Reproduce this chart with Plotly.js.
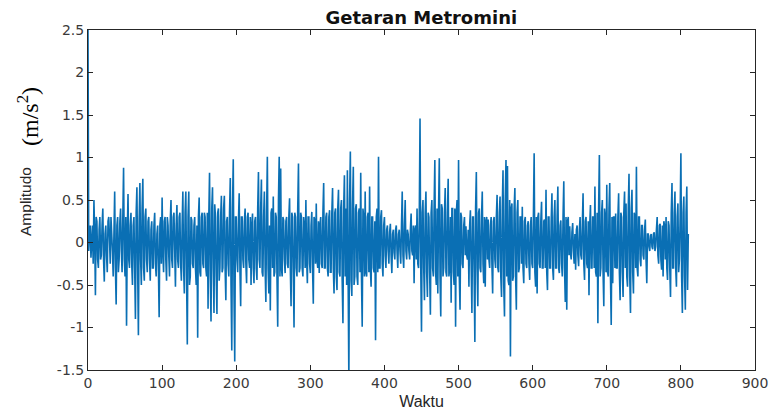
<!DOCTYPE html>
<html>
<head>
<meta charset="utf-8">
<script src="https://cdn.plot.ly/plotly-3.0.1.min.js"></script>
<style>html,body{margin:0;padding:0;background:#fff;}#chart{width:778px;height:419px;}</style>
</head>
<body>
<div id="chart"></div>
<script>
// Sample step along the time axis (Waktu)
const sampleStep = 1;
// Amplitude readings (m/s^2)
const amplitudo = [
  2.5,-0.1, 0.12,0.2, -0.18,0.1, 0.2,-0.25, 0.5,0.1, -0.62,0.3, 0.25,-0.2, -0.3,0.15, 0.3,-0.2, -0.15,0.2,
  0.4,-0.2, -0.46,0.1, 0.2,-0.15, -0.35,0.25, 0.3,0.05, -0.25,0.3, 0.15,-0.1, -0.4,0.2, 0.6,-0.3, -0.73,0.2,
  0.3,-0.35, -0.2,0.25, 0.4,-0.1, -0.35,0.3, 0.88,-0.2, -0.4,0.3, -0.98,0.1, 0.57,-0.2, -0.3,0.2, 0.35,-0.25,
  -0.5,0.2, 0.3,-0.3, -0.9,0.35, 0.65,-0.3, -1.09,0.25, 0.7,-0.2, -0.5,0.4, 0.75,-0.3, -0.45,0.3, 0.4,-0.2,
  -0.35,0.25, 0.3,-0.2, -0.45,0.15, 0.25,-0.3, -0.3,0.2, 0.35,-0.25, -0.4,0.1, 0.2,-0.3, -0.88,0.2, 0.3,-0.25,
  0.53,-0.1, -0.35,0.25, 0.3,-0.2, -0.45,0.3, 0.2,-0.15, -0.4,0.25, 0.5,-0.2, -0.3,0.3, 0.35,-0.1, -0.52,0.2,
  0.44,-0.2, -0.3,0.3, 0.35,-0.25, -0.45,0.2, 0.6,-0.3, -0.6,0.35, 0.6,-0.4, -1.2,0.3, 0.6,-0.5, -0.4,0.3,
  0.26,-0.25, -0.3,0.2, 0.3,-0.3, -0.5,0.2, -1.12,0.3, 0.53,-0.35, -0.4,0.3, 0.35,-0.25, -0.3,0.35, 0.3,-0.3,
  -0.4,0.35, -0.78,0.3, 0.82,-0.4, -0.93,0.4, 0.65,-0.3, -0.83,0.45, 0.3,-0.4, -0.84,0.35, 0.4,-0.45, -0.3,0.3,
  0.55,-0.35, -0.3,0.4, 0.55,-0.3, -0.68,0.25, 0.3,-0.25, -0.4,0.35, 0.76,-0.5, -1.27,0.4, 0.98,-0.6, -1.4,0.3,
  0.3,-0.2, -0.35,0.25, 0.58,-0.3, -0.75,0.3, 0.3,-0.2, -0.3,0.25, 0.4,-0.25, -0.48,0.3, 0.35,-0.2, -0.3,0.3,
  -0.5,0.2, 0.34,-0.3, -0.48,0.25, 0.3,-0.3, -0.44,0.4, 0.83,-0.2, -0.3,0.4, 0.74,-0.35, -0.4,0.3, 0.6,-0.3,
  -0.7,0.35, 1.01,-0.3, -0.6,0.2, -0.8,0.35, 0.4,-0.3, 0.54,-0.4, -0.35,0.35, 0.3,-0.4, -0.99,0.5, 1.01,-0.4,
  0.87,-0.3, -0.4,0.3, 0.26,-0.2, -0.36,0.25, 0.3,-0.25, -0.3,0.3, 0.52,-0.3, -0.75,0.35, 0.3,-0.35, -1.0,0.35,
  0.3,-0.3, -0.4,0.4, 0.93,-0.35, -0.3,0.35, 0.3,-0.3, -0.4,0.3, 0.2,-0.3, 0.5,-0.2, -0.48,0.3, 0.3,-0.25,
  -0.36,0.2, 0.36,-0.3, -0.72,0.3, 0.26,-0.25, 0.46,-0.2, -0.3,0.25, -0.36,0.2, 0.3,-0.25, -0.3,0.35, 0.7,-0.3,
  -0.3,0.3, 0.35,-0.3, -0.4,0.3, 0.38,-0.35, -0.35,0.35, 0.64,-0.3, -0.6,0.35, 0.4,-0.4, -0.56,0.4, 0.62,-0.35,
  -0.4,0.4, 0.5,-0.45, -0.95,0.4, 0.79,-0.4, 0.4,-0.5, 0.85,-0.4, -1.62,0.5, 1.07,-0.45, -0.63,0.45, 0.89,-0.5,
  -0.4,0.4, 0.45,-0.4, -0.5,0.35, 0.4,-0.35, 0.82,-0.4, -0.99,0.4, 0.3,-0.4, 0.6,-0.35, -0.4,0.3, 0.35,-0.35,
  0.66,-0.3, -0.52,0.3, 0.3,-0.3, -0.35,0.25, -1.15,0.3, 0.4,-0.35, 1.01,-0.3, -0.3,0.3, 0.38,-0.25, -0.4,0.2,
  0.3,-0.15, -0.3,0.15, 0.2,-0.1, -0.25,0.12, 0.22,-0.15, -0.36,0.1, 0.15,-0.12, -0.2,0.15, 0.2,-0.1, -0.3,0.1,
  0.15,-0.1, -0.25,0.2, 0.6,-0.15, -0.3,0.2, 0.5,-0.1, -0.2,0.15, 0.1,-0.1, -0.2,0.15, 0.34,-0.1, -0.15,0.2,
  -0.48,0.15, 0.2,-0.2, 0.4,-0.25, -0.3,0.3, 1.46,-0.3, -1.05,0.35, 0.5,-0.3, -0.68,0.35, 0.6,-0.35, -0.64,0.35,
  0.3,-0.35, -0.85,0.35, 0.5,-0.3, -0.4,0.4, 0.97,-0.35, -0.5,0.4, -0.6,0.35, 0.99,-0.4, -0.87,0.45, 0.4,-0.4,
  -0.3,0.35, 0.64,-0.35, -0.4,0.35, 0.75,-0.4, -0.3,0.3, -0.71,0.4, 0.4,-0.35, -0.5,0.4, -0.99,0.35, 0.5,-0.4,
  0.97,-0.4, -0.79,0.35, 0.3,-0.25, -0.3,0.2, 0.3,-0.15, 0.19,-0.15, -0.2,0.15, -0.52,0.2, 0.38,-0.25, -0.83,0.3,
  0.3,-0.35, -1.17,0.4, 0.83,-0.3, -0.75,0.35, 0.4,-0.3, -0.35,0.3, 0.6,-0.25, -0.48,0.3, -0.52,0.25, 0.3,-0.2,
  0.27,-0.2, -0.3,0.2, 0.3,-0.25, -0.6,0.25, 0.3,-0.2, -0.3,0.3, 0.56,-0.3, -0.35,0.35, 0.54,-0.4, -0.64,0.4,
  0.85,-0.5, -0.87,0.5, 0.97,-0.4, 0.9,-0.45, -0.5,0.5, -1.34,0.4, 0.46,-0.45, -0.4,0.4, 0.64,-0.4, -0.79,0.35,
  0.5,-0.35, -0.3,0.3, 0.3,-0.25, 0.42,-0.3, -0.48,0.25, 0.3,-0.25, -0.3,0.2, 0.25,-0.25, -0.44,0.2, 0.3,-0.25,
  -0.3,0.3, 1.05,-0.35, -0.52,0.3, -0.6,0.3, 0.35,-0.25, -0.3,0.25, 0.48,-0.3, -0.3,0.25, 0.27,-0.3, 0.62,-0.35,
  -0.56,0.3, 0.3,-0.3, -0.3,0.25, 0.58,-0.3, -0.44,0.3, 0.5,-0.3, -0.3,0.3, 0.66,-0.3, -0.36,0.2, 0.26,-0.25,
  -0.4,0.3, 0.72,-0.3, -0.7,0.3, -0.79,0.25, 0.3,-0.15, 0.19,-0.12, -0.2,0.12, 0.23,-0.1, -0.25,0.1, -0.32,0.15,
  0.2,-0.15, -0.28,0.15, 0.3,-0.15, -0.2,0.2, 0.58,-0.25, -0.44,0.25, 0.3,-0.25, -0.3,0.25, -0.62,0.2, 0.44,-0.3,
  -0.3,0.3, 0.3,-0.3, 0.66,-0.35, -0.4,0.35, -0.95,0.4, 1.03,-0.4, -0.3,0.35, 0.5,-0.35, -0.75,0.4, 0.3,-0.35,
  0.68,-0.35, -0.4,0.4, 0.7,-0.4, -0.97,0.3, -0.48,0.3, 0.3,-0.3, 0.34,-0.3, -0.3,0.3, 0.58,-0.35, -0.68,0.35,
  0.3,-0.35, -0.64,0.35, 0.6,-0.3, 0.46,-0.4, -0.52,0.4, 0.81,-0.4, -0.83,0.4, 0.62,-0.35, -0.6,0.35, 0.3,-0.3,
  0.89,-0.3, -0.4,0.3, 0.3,-0.2, -0.28,0.2, 0.2,-0.15, -0.2,0.15, 0.27,-0.2, -0.48,0.1, 0.1,-0.05, -0.1,0.08,
  0.1,-0.05, -0.08,0.1, 0.12,-0.1, -0.05,0.15, 0.3,-0.15, -0.25,0.2, 0.22,-0.2, -0.32,0.2, -0.4,0.25, 0.2,-0.2,
  0.3,-0.3, -0.44,0.25, 0.2,-0.3, -0.64,0.35, 0.7,-0.3, -0.3,0.35, 0.6,-0.3, -0.52,0.3, 0.46,-0.35, -0.2,0.3,
  1.05,-0.4, -0.83,0.35, 0.54,-0.4, -0.79,0.35, 0.66,-0.56, 0.1
];
const waktu = amplitudo.map((_, i) => i * sampleStep);

const xTickVals = [0, 100, 200, 300, 400, 500, 600, 700, 800, 900];
const yTickVals = [-1.5, -1, -0.5, 0, 0.5, 1, 1.5, 2, 2.5];
const yTickText = ["-1.5", "-1", "-0.5", "0", "0.5", "1", "1.5", "2", "2.5"];

const chartTitle = "Getaran Metromini";
const xLabel = "Waktu";
const yLabelWord = "Amplitudo";
const yLabelUnit = "(m/s<sup>2</sup>)";

const axisColor = "#262626";
const tickFont = { family: "DejaVu Sans, Verdana, sans-serif", size: 14, color: "#3a3a3a" };

const trace = {
  x: waktu,
  y: amplitudo,
  type: "scatter",
  mode: "lines",
  line: { color: "#0a6fb4", width: 1.6 },
  hoverinfo: "skip"
};

const layout = {
  width: 778,
  height: 419,
  margin: { l: 88, r: 23, t: 30, b: 49 },
  paper_bgcolor: "#ffffff",
  plot_bgcolor: "#ffffff",
  showlegend: false,
  font: { family: "DejaVu Sans, Verdana, sans-serif", size: 14, color: axisColor },
  title: {
    text: "<b>" + chartTitle + "</b>",
    x: 0.5415, xanchor: "center",
    y: 0.958, yanchor: "middle",
    font: { family: "DejaVu Sans, Verdana, sans-serif", size: 18, color: "#111" }
  },
  xaxis: {
    range: [0, 900],
    tickvals: xTickVals,
    ticks: "inside",
    ticklen: 5,
    tickcolor: axisColor,
    showline: true,
    linecolor: axisColor,
    linewidth: 1,
    mirror: "ticks",
    showgrid: false,
    zeroline: false,
    tickfont: tickFont,
    title: {
      text: xLabel,
      standoff: 6,
      font: { family: "Liberation Sans, Arial, sans-serif", size: 16, color: axisColor }
    }
  },
  yaxis: {
    range: [-1.5, 2.5],
    tickvals: yTickVals,
    ticktext: yTickText,
    ticks: "inside",
    ticklen: 5,
    tickcolor: axisColor,
    showline: true,
    linecolor: axisColor,
    linewidth: 1,
    mirror: "ticks",
    showgrid: false,
    zeroline: false,
    tickfont: tickFont
  },
  annotations: [
    {
      text: yLabelWord,
      xref: "paper", yref: "paper",
      x: -0.0945, y: 0.497,
      xanchor: "center", yanchor: "middle",
      textangle: -90,
      showarrow: false,
      font: { family: "Liberation Sans, Arial, sans-serif", size: 15.5, color: axisColor }
    },
    {
      text: yLabelUnit,
      xref: "paper", yref: "paper",
      x: -0.09, y: 0.747,
      xanchor: "center", yanchor: "middle",
      textangle: -90,
      showarrow: false,
      font: { family: "Liberation Serif, Times New Roman, serif", size: 24, color: "#000" }
    }
  ]
};

Plotly.newPlot("chart", [trace], layout, { staticPlot: true, displayModeBar: false });
</script>
</body>
</html>
